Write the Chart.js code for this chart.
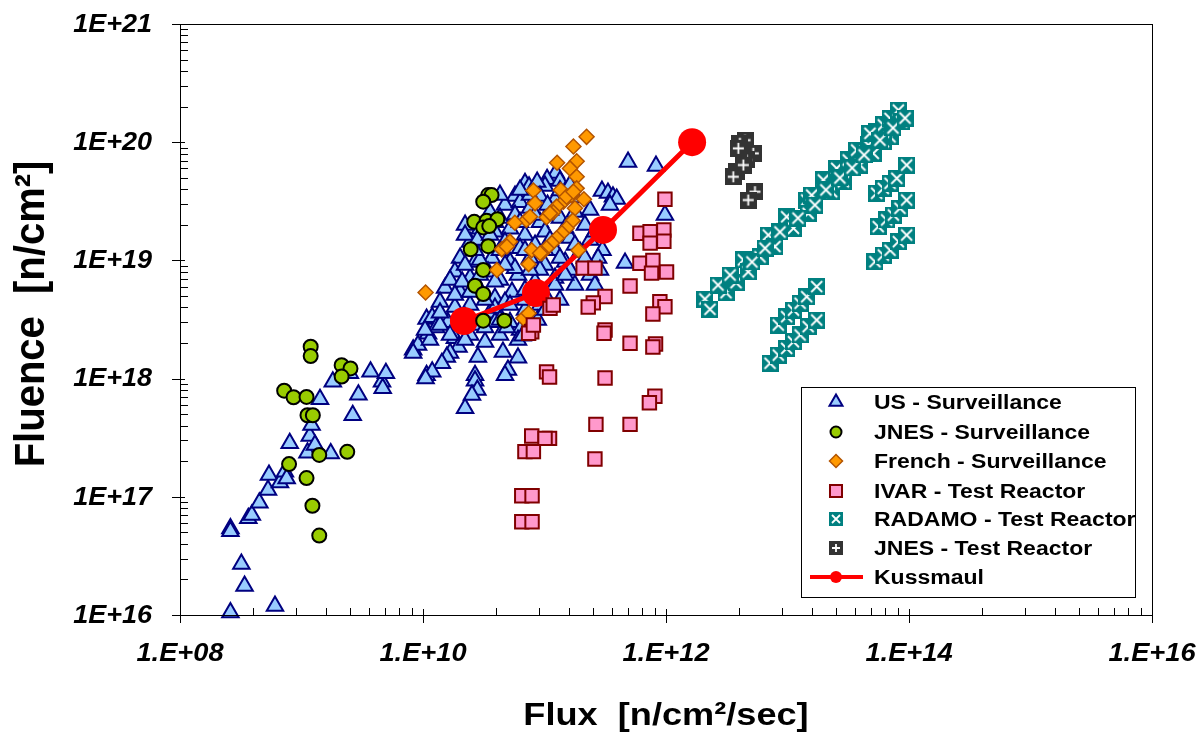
<!DOCTYPE html>
<html>
<head>
<meta charset="utf-8">
<script src="https://cdn.jsdelivr.net/npm/chart.js@4.4.1/dist/chart.umd.min.js"></script>
<style>
  body { margin: 0; background: #fff; }
  canvas { display: block; }
</style>
</head>
<body>
<canvas id="fluxChart" width="1199" height="736"></canvas>
<script>
// [flux n/cm2/sec, fluence n/cm2]
const usSurveillance = [
  [2.6e8, 5.4e16], [2.6e8, 5.1e16], [3.2e8, 2.7e16], [3.4e8, 1.76e16], [2.6e8, 1.05e16], [6.05e8, 1.19e16],
  [3.65e8, 6.6e16], [3.9e8, 7.0e16], [4.5e8, 8.9e16], [5.3e8, 1.14e17], [5.4e8, 1.53e17], [6.65e8, 1.32e17],
  [7.3e8, 1.63e17], [7.55e8, 1.43e17], [8.0e8, 2.84e17], [1.12e9, 2.36e17], [1.17e9, 3.27e17], [1.21e9, 4.05e17],
  [1.29e9, 2.74e17], [1.74e9, 2.33e17], [1.42e9, 6.7e17], [1.81e9, 9.4e17], [2.64e9, 4.9e17], [2.94e9, 7.3e17],
  [2.5e9, 1.11e18], [3.7e9, 1.14e18], [4.6e9, 9.4e17], [4.66e9, 8.3e17], [4.95e9, 1.11e18], [8.3e9, 1.75e18],
  [9.1e9, 1.92e18], [1.07e10, 3.2e18], [1.07e10, 1.07e18], [1.1e10, 2.4e18],
  [4.87e11, 6.8e19], [8.27e11, 6.3e19], [9.8e11, 2.42e19], [4.6e11, 9.5e18], [3.0e11, 1.22e19], [2.97e11, 3.87e19],
  [3.33e11, 3.72e19], [3.66e11, 3.45e19], [3.93e11, 3.3e19], [1.24e11, 5.5e19], [1.05e11, 4.85e19], [1.34e11, 4.7e19],
  [6.91e10, 4.5e19], [7.46e10, 4.2e19], [1.01e11, 4.27e19], [8.7e10, 4.6e19], [5.72e10, 3.5e19], [9.18e10, 3.5e19],
  [1.48e11, 3.8e19], [4.73e10, 2.94e19], [6.29e10, 3.1e19], [7.6e10, 2.78e19], [1.22e11, 3.25e19], [1.78e11, 2.57e19],
  [3.56e10, 2.55e19], [4.3e10, 2.28e19], [5.72e10, 2.42e19], [9.18e10, 2.1e19], [1.34e11, 2.28e19], [2.15e11, 1.99e19],
  [2.94e10, 1.85e19], [3.91e10, 1.75e19], [5.2e10, 1.85e19], [6.91e10, 1.64e19], [1.01e11, 1.75e19], [1.62e11, 1.55e19],
  [2.37e11, 1.49e19], [2.44e10, 1.43e19], [3.24e10, 1.35e19], [4.73e10, 1.43e19], [6.29e10, 1.27e19], [8.36e10, 1.35e19],
  [1.22e11, 1.22e19], [1.96e11, 1.18e19], [2.76e11, 1.05e19], [2.02e10, 1.05e19], [2.68e10, 9.7e18], [3.69e10, 1.05e19],
  [5.2e10, 9.7e18], [7.6e10, 1.05e19], [1.01e11, 9.14e18], [1.48e11, 9.7e18], [2.15e11, 8.6e18], [1.83e10, 8.0e18],
  [2.44e10, 7.1e18], [3.43e10, 8.0e18], [4.3e10, 6.82e18], [6.05e10, 7.52e18], [8.36e10, 6.6e18], [1.22e11, 7.1e18],
  [1.78e11, 6.19e18], [2.37e11, 7.52e18], [1.52e10, 5.85e18], [2.02e10, 5.4e18], [2.94e10, 5.62e18], [3.91e10, 4.8e18],
  [5.4e10, 5.4e18], [1.01e11, 5.09e18], [1.34e11, 4.62e18], [1.38e10, 4.45e18], [1.83e10, 4.03e18], [2.44e10, 4.2e18],
  [3.56e10, 3.6e18], [4.73e10, 4.45e18], [6.91e10, 3.8e18], [9.18e10, 4.2e18], [1.19e10, 3.3e18], [1.6e10, 3.0e18],
  [2.22e10, 3.3e18], [2.83e10, 2.84e18], [3.91e10, 3.96e18], [5.2e10, 3.0e18], [6.29e10, 2.58e18], [8.8e10, 3.13e18],
  [1.28e10, 2.7e18], [1.38e10, 2.84e18], [1.83e10, 2.2e18], [2.44e10, 2.34e18], [3.24e10, 2.04e18], [4.3e10, 2.34e18],
  [4.9e10, 2.7e18], [6.05e10, 2.12e18], [6.6e10, 2.3e18], [8.3e9, 1.65e18], [1.96e10, 1.85e18], [1.67e10, 1.65e18],
  [1.57e10, 1.52e18], [1.43e10, 1.35e18], [2.83e10, 1.52e18], [4.55e10, 1.68e18], [6.05e10, 1.5e18], [1.19e10, 1.14e18],
  [1.05e10, 1.0e18], [2.68e10, 1.07e18], [2.68e10, 9.6e17], [2.8e10, 8.0e17], [2.53e10, 7.26e17], [2.22e10, 5.6e17],
  [5.0e10, 1.18e18], [4.73e10, 1.07e18], [2.22e10, 1.99e19], [1.11e11, 2.67e19], [1.48e11, 1.88e19], [1.11e11, 1.49e19],
  [4.3e10, 1.22e19], [5.72e10, 8.6e18], [6.91e10, 5.62e18], [3.24e10, 4.62e18], [2.02e10, 3.13e18], [2.94e10, 1.01e19],
  [9.18e10, 8.3e18], [1.62e11, 8.3e18], [2.6e11, 6.19e18], [4.3e10, 3.58e19], [7.6e10, 3.58e19], [3.91e10, 2.1e19],
  [2.68e10, 1.22e19], [6.91e10, 1.22e19], [1.01e11, 3.8e18], [3.91e10, 3.0e18], [1.67e10, 6.82e18], [2.1e10, 6.6e18],
  [2.22e10, 1.64e19], [2.8e10, 1.49e19], [3.56e10, 1.64e19], [6.29e10, 2.1e19], [8.36e10, 2.42e19], [1.06e11, 2.94e19],
  [1.34e11, 3.9e19], [1.62e11, 4.35e19], [1.78e11, 3.4e19], [2.37e11, 2.67e19], [2.6e11, 1.75e19], [1.78e11, 1.35e19],
  [1.34e11, 1.05e19], [1.01e11, 1.22e19], [7.6e10, 8.3e18], [4.73e10, 9.14e18], [3.91e10, 6.6e18], [2.94e10, 7.52e18],
  [2.22e10, 9.14e18], [1.83e10, 5.09e18], [2.44e10, 5.4e18], [5.2e10, 4.2e18], [6.91e10, 4.62e18], [4.3e10, 3.13e18],
  [3.24e10, 2.7e18], [1.67e10, 2.34e18], [2.22e10, 2.12e18], [1.14e10, 2.12e18], [1.04e10, 2.58e18], [1.38e10, 3.6e18],
  [1.22e11, 6.19e18], [1.48e11, 7.52e18], [2.15e11, 1.05e19], [2.86e11, 8.3e18], [3.46e11, 2.94e19], [6.29e10, 3.95e19]
];

const jnesSurveillance = [
  [1.19e9, 1.86e18], [1.19e9, 1.55e18], [2.14e9, 1.3e18], [2.53e9, 1.22e18], [2.14e9, 1.04e18], [7.2e8, 7.9e17],
  [8.6e8, 6.95e17], [1.1e9, 7.0e17], [1.12e9, 4.9e17], [1.24e9, 4.9e17], [1.4e9, 2.26e17], [2.38e9, 2.4e17],
  [7.9e8, 1.89e17], [1.1e9, 1.44e17], [1.23e9, 8.4e16], [1.4e9, 4.7e16],
  [3.44e10, 3.57e19], [3.67e10, 3.57e19], [3.13e10, 3.14e19], [2.64e10, 2.12e19], [3.34e10, 2.17e19], [4.09e10, 2.23e19],
  [3.13e10, 1.9e19], [3.51e10, 1.95e19], [2.47e10, 1.24e19], [3.44e10, 1.32e19], [3.13e10, 8.3e18], [2.68e10, 6.1e18],
  [3.13e10, 5.2e18], [3.13e10, 3.09e18], [4.67e10, 3.09e18]
];

const frenchSurveillance = [
  [1.05e10, 5.35e18], [2.22e11, 1.11e20], [1.73e11, 9.2e19], [1.27e11, 6.7e19], [1.84e11, 6.9e19], [1.62e11, 6.0e19],
  [1.84e11, 5.1e19], [8.1e10, 3.9e19], [1.36e11, 3.94e19], [1.84e11, 4.07e19], [1.67e11, 3.57e19], [2.11e11, 3.29e19],
  [8.36e10, 3.04e19], [1.43e11, 3.14e19], [1.26e11, 2.85e19], [1.78e11, 2.76e19], [1.18e11, 2.55e19], [1.04e11, 2.32e19],
  [1.71e11, 2.17e19], [7.1e10, 2.2e19], [7.6e10, 2.34e19], [5.7e10, 2.08e19], [1.11e11, 2.5e19], [1.52e11, 1.87e19],
  [1.39e11, 1.7e19], [1.26e11, 1.54e19], [1.15e11, 1.4e19], [1.04e11, 1.27e19], [9.5e10, 1.15e19], [7.85e10, 1.22e19],
  [1.9e11, 1.22e19], [7.4e10, 9.3e18], [5.2e10, 1.44e19], [4.45e10, 1.24e19], [4.9e10, 1.31e19], [6.7e10, 3.24e18],
  [7.4e10, 3.57e18], [9.2e10, 1.15e19], [1.52e11, 3.46e19], [1.73e11, 3.81e19], [4.06e10, 8.3e18]
];

const ivarTestReactor = [
  [9.8e11, 3.29e19], [6.1e11, 1.7e19], [7.4e11, 1.75e19], [9.6e11, 1.81e19], [9.6e11, 1.45e19], [7.4e11, 1.4e19],
  [6.1e11, 9.45e18], [7.8e11, 9.98e18], [7.6e11, 7.8e18], [1.01e12, 7.97e18], [2.08e11, 8.6e18], [2.6e11, 8.6e18],
  [5.06e11, 6.07e18], [3.15e11, 4.95e18], [2.52e11, 4.37e18], [2.29e11, 4.04e18], [8.9e11, 4.47e18], [9.8e11, 4.06e18],
  [7.8e11, 3.52e18], [3.15e11, 2.58e18], [3.09e11, 2.42e18], [5.06e11, 1.99e18], [8.2e11, 1.96e18], [7.8e11, 1.85e18],
  [1.04e11, 1.14e18], [1.1e11, 1.03e18], [3.15e11, 1.01e18], [8.1e11, 7.1e17], [7.3e11, 6.25e17], [2.65e11, 4.1e17],
  [5.06e11, 4.1e17], [7.85e10, 3.27e17], [1.1e11, 3.12e17], [1.01e11, 3.12e17], [6.9e10, 2.41e17], [8.1e10, 2.41e17],
  [2.6e11, 2.09e17], [6.5e10, 1.02e17], [7.9e10, 1.02e17], [6.5e10, 6.15e16], [7.9e10, 6.15e16], [1.11e11, 3.93e18],
  [1.18e11, 4.2e18], [7.85e10, 2.49e18], [7.4e10, 2.42e18], [8.1e10, 2.84e18]
];

const radamoTestReactor = [
  [2.09e12, 4.71e18], [2.3e12, 3.86e18], [3.12e12, 5.33e18], [3.77e12, 6.48e18], [4.33e12, 1.01e19], [4.75e12, 8.0e18],
  [5.94e12, 1.07e19], [6.95e12, 1.64e19], [7.89e12, 1.31e19], [9.84e12, 2.34e19], [1.12e13, 1.87e19], [1.44e13, 3.24e19],
  [1.48e13, 2.5e19], [1.58e13, 3.57e19], [1.97e13, 4.79e19], [2.31e13, 3.81e19], [2.54e13, 6.01e19], [2.88e13, 4.63e19],
  [3.16e13, 7.07e19], [3.71e13, 8.59e19], [3.95e13, 6.41e19], [4.62e13, 9.47e19], [5.42e13, 1.23e20], [6.14e13, 1.4e20],
  [6.98e13, 1.59e20], [8.17e13, 1.87e20], [8.71e13, 1.49e20], [6.98e13, 1.11e20], [6.14e13, 1.01e20], [5.08e13, 8.05e19],
  [4.77e13, 1.19e20], [2.68e12, 6.19e18], [3.37e12, 7.52e18], [5.1e12, 9.7e18], [6.53e12, 1.27e19], [8.67e12, 1.74e19],
  [1.22e13, 2.28e19], [1.68e13, 2.94e19], [2.07e13, 3.95e19], [2.7e13, 4.98e19], [3.4e13, 6.05e19], [4.27e13, 7.8e19],
  [5.77e13, 1.04e20], [7.38e13, 1.32e20], [9.27e13, 1.6e20],
  [5.42e13, 3.7e19], [6.14e13, 4.07e19], [6.98e13, 4.49e19], [7.93e13, 4.95e19], [9.57e13, 6.41e19],
  [5.58e13, 1.93e19], [6.55e13, 2.2e19], [7.43e13, 2.42e19], [8.43e13, 2.76e19], [9.57e13, 3.24e19],
  [5.25e13, 9.75e18], [6.14e13, 1.11e19], [6.98e13, 1.22e19], [8.17e13, 1.44e19], [9.57e13, 1.64e19],
  [8.4e12, 2.84e18], [9.84e12, 3.34e18], [1.12e13, 3.8e18], [1.27e13, 4.34e18], [1.44e13, 4.93e18], [1.74e13, 6.0e18],
  [7.18e12, 1.35e18], [8.4e12, 1.58e18], [9.84e12, 1.8e18], [1.12e13, 2.05e18], [1.27e13, 2.34e18], [1.48e13, 2.75e18],
  [1.74e13, 3.13e18]
];

const jnesTestReactor = [
  [4.47e12, 1.04e20], [5.23e12, 8.05e19], [3.82e12, 5.62e19], [5.4e12, 3.81e19], [4.06e12, 9.8e19],
  [4.61e12, 7.07e19], [3.58e12, 5.1e19], [4.75e12, 3.24e19], [3.94e12, 8.87e19], [4.33e12, 6.41e19]
];

const kussmaul = [[2.17e10, 3.07e18], [8.5e10, 5.3e18], [3.03e11, 1.81e19], [1.64e12, 1.0e20]];

const xMajor = [1e8, 1e10, 1e12, 1e14, 1e16];
const yMajor = [1e16, 1e17, 1e18, 1e19, 1e20, 1e21];
const xTickLabels = ['1.E+08', '1.E+10', '1.E+12', '1.E+14', '1.E+16'];
const yTickLabels = ['1E+16', '1E+17', '1E+18', '1E+19', '1E+20', '1E+21'];

const toXY = list => list.map(([x, y]) => ({ x, y }));

// square markers with a white glyph (RADAMO / JNES test reactor)
function glyphMarker(size, fill, glyph) {
  const c = document.createElement('canvas');
  c.width = size; c.height = size;
  const g = c.getContext('2d');
  g.fillStyle = fill;
  g.fillRect(0, 0, size, size);
  g.strokeStyle = '#fff';
  g.lineWidth = 1.8;
  const m = Math.round(size * 0.2);
  g.beginPath();
  if (glyph === 'x') {
    g.moveTo(m, m); g.lineTo(size - m, size - m);
    g.moveTo(size - m, m); g.lineTo(m, size - m);
  } else {
    g.moveTo(size / 2, m); g.lineTo(size / 2, size - m);
    g.moveTo(m, size / 2); g.lineTo(size - m, size / 2);
  }
  g.stroke();
  return c;
}

const radamoMark = glyphMarker(17, '#008080', 'x');
const jnesTrMark = glyphMarker(17, '#333333', '+');
const radamoLegend = glyphMarker(14, '#008080', 'x');
const jnesTrLegend = glyphMarker(14, '#333333', '+');

const datasets = [
  { label: 'US - Surveillance', data: toXY(usSurveillance), pointStyle: 'triangle', pointRadius: 9.5,
    backgroundColor: '#99CCFF', borderColor: '#000080', pointBorderWidth: 2, order: 7,
    legendRadius: 7.5 },
  { label: 'JNES - Surveillance', data: toXY(jnesSurveillance), pointStyle: 'circle', pointRadius: 7,
    backgroundColor: '#99CC00', borderColor: '#000000', pointBorderWidth: 2, order: 5,
    legendRadius: 5.5 },
  { label: 'French - Surveillance', data: toXY(frenchSurveillance), pointStyle: 'rectRot', pointRadius: 7.5,
    backgroundColor: '#FF9900', borderColor: '#B35400', pointBorderWidth: 1.5, order: 4,
    legendRadius: 6.5 },
  { label: 'IVAR - Test Reactor', data: toXY(ivarTestReactor), pointStyle: 'rect', pointRadius: 9.5,
    backgroundColor: '#FF99CC', borderColor: '#800000', pointBorderWidth: 2, order: 3,
    legendRadius: 8.5 },
  { label: 'RADAMO - Test Reactor', data: toXY(radamoTestReactor), pointStyle: radamoMark, pointRadius: 8,
    backgroundColor: '#008080', borderColor: '#008080', order: 2, legendStyle: radamoLegend },
  { label: 'JNES - Test Reactor', data: toXY(jnesTestReactor), pointStyle: jnesTrMark, pointRadius: 8,
    backgroundColor: '#333333', borderColor: '#333333', order: 1, legendStyle: jnesTrLegend },
  { label: 'Kussmaul', data: toXY(kussmaul), showLine: true, pointStyle: 'circle', pointRadius: 14,
    backgroundColor: '#FF0000', borderColor: '#FF0000', borderWidth: 5, pointBorderWidth: 0, order: 6,
    legendRadius: 6 }
];
datasets.forEach(d => { d.clip = false; d.pointHoverRadius = d.pointRadius; });

// draws text stretched along its baseline
function wideText(ctx, text, x, y, align, sx) {
  ctx.save();
  ctx.translate(x, y);
  ctx.scale(sx, 1);
  ctx.textAlign = align;
  ctx.textBaseline = 'middle';
  ctx.fillText(text, 0, 0);
  ctx.restore();
}

const axesFrame = {
  id: 'axesFrame',
  afterDraw(chart) {
    const { ctx, chartArea: a, scales: { x, y } } = chart;
    ctx.save();
    ctx.strokeStyle = '#000';
    ctx.lineWidth = 1;
    ctx.strokeRect(a.left + 0.5, a.top + 0.5, a.right - a.left, a.bottom - a.top);

    ctx.beginPath();
    // fluence axis: minor ticks 2..9 inside, majors crossing
    for (let e = 16; e < 21; e++) {
      for (let k = 2; k <= 9; k++) {
        const py = Math.round(y.getPixelForValue(k * Math.pow(10, e))) + 0.5;
        ctx.moveTo(a.left, py); ctx.lineTo(a.left + 8, py);
      }
    }
    yMajor.forEach(v => {
      const py = Math.round(y.getPixelForValue(v)) + 0.5;
      ctx.moveTo(a.left - 8, py); ctx.lineTo(a.left + 5, py);
    });
    // flux axis: base-100 minor ticks (k squared multiples)
    for (let i = 0; i < xMajor.length - 1; i++) {
      for (let k = 2; k <= 9; k++) {
        const px = Math.round(x.getPixelForValue(xMajor[i] * k * k)) + 0.5;
        ctx.moveTo(px, a.bottom); ctx.lineTo(px, a.bottom - 7);
      }
    }
    xMajor.forEach(v => {
      const px = Math.round(x.getPixelForValue(v)) + 0.5;
      ctx.moveTo(px, a.bottom - 6); ctx.lineTo(px, a.bottom + 8);
    });
    ctx.stroke();

    ctx.fillStyle = '#000';
    ctx.font = 'italic bold 25px "Liberation Sans", Arial, sans-serif';
    yMajor.forEach((v, i) => wideText(ctx, yTickLabels[i], a.left - 28, y.getPixelForValue(v) + 1, 'right', 1.08));
    xMajor.forEach((v, i) => wideText(ctx, xTickLabels[i], x.getPixelForValue(v), a.bottom + 39, 'center', 1.09));

    ctx.font = 'bold 32px "Liberation Sans", Arial, sans-serif';
    wideText(ctx, 'Flux  [n/cm²/sec]', (a.left + a.right) / 2, 716, 'center', 1.13);
    ctx.save();
    ctx.translate(32, 314);
    ctx.rotate(-Math.PI / 2);
    ctx.scale(1, 1.05);
    ctx.textAlign = 'center';
    ctx.textBaseline = 'middle';
    ctx.font = 'bold 40px "Liberation Sans", Arial, sans-serif';
    ctx.fillText('Fluence  [n/cm²]', 0, 0);
    ctx.restore();

    // legend box
    const box = { l: 801, t: 387, r: 1135, b: 597 };
    ctx.fillStyle = '#fff';
    ctx.fillRect(box.l, box.t, box.r - box.l, box.b - box.t);
    ctx.strokeRect(box.l + 0.5, box.t + 0.5, box.r - box.l, box.b - box.t);
    const rowY = [402, 432, 461, 491, 519, 548, 577];
    chart.data.datasets.forEach((d, i) => {
      const cy = rowY[i], cx = 836;
      if (d.showLine) {
        ctx.strokeStyle = d.borderColor;
        ctx.lineWidth = 4;
        ctx.beginPath(); ctx.moveTo(810, cy); ctx.lineTo(863, cy); ctx.stroke();
      }
      ctx.fillStyle = d.backgroundColor;
      ctx.strokeStyle = d.borderColor;
      ctx.lineWidth = d.pointBorderWidth || 0;
      Chart.helpers.drawPoint(ctx, {
        pointStyle: d.legendStyle || d.pointStyle,
        radius: d.legendRadius || 7,
        rotation: 0,
        borderWidth: d.pointBorderWidth || 0
      }, cx, cy);
      ctx.fillStyle = '#000';
      ctx.font = 'bold 20px "Liberation Sans", Arial, sans-serif';
      wideText(ctx, d.label, 874, cy + 1, 'left', 1.15);
    });
    ctx.restore();
  }
};

new Chart(document.getElementById('fluxChart'), {
  type: 'scatter',
  data: { datasets },
  options: {
    responsive: false,
    animation: false,
    devicePixelRatio: 1,
    layout: { padding: { top: 24, right: 47, left: 0, bottom: 0 } },
    plugins: { legend: { display: false }, tooltip: { enabled: false } },
    scales: {
      x: {
        type: 'logarithmic', position: 'bottom', min: 1e8, max: 1e16,
        grid: { display: false }, border: { display: false }, ticks: { display: false },
        afterBuildTicks: s => { s.ticks = xMajor.map(value => ({ value })); },
        afterFit: s => { s.height = 121; }
      },
      y: {
        type: 'logarithmic', position: 'left', min: 1e16, max: 1e21,
        grid: { display: false }, border: { display: false }, ticks: { display: false },
        afterBuildTicks: s => { s.ticks = yMajor.map(value => ({ value })); },
        afterFit: s => { s.width = 180; }
      }
    }
  },
  plugins: [axesFrame]
});
</script>
</body>
</html>
